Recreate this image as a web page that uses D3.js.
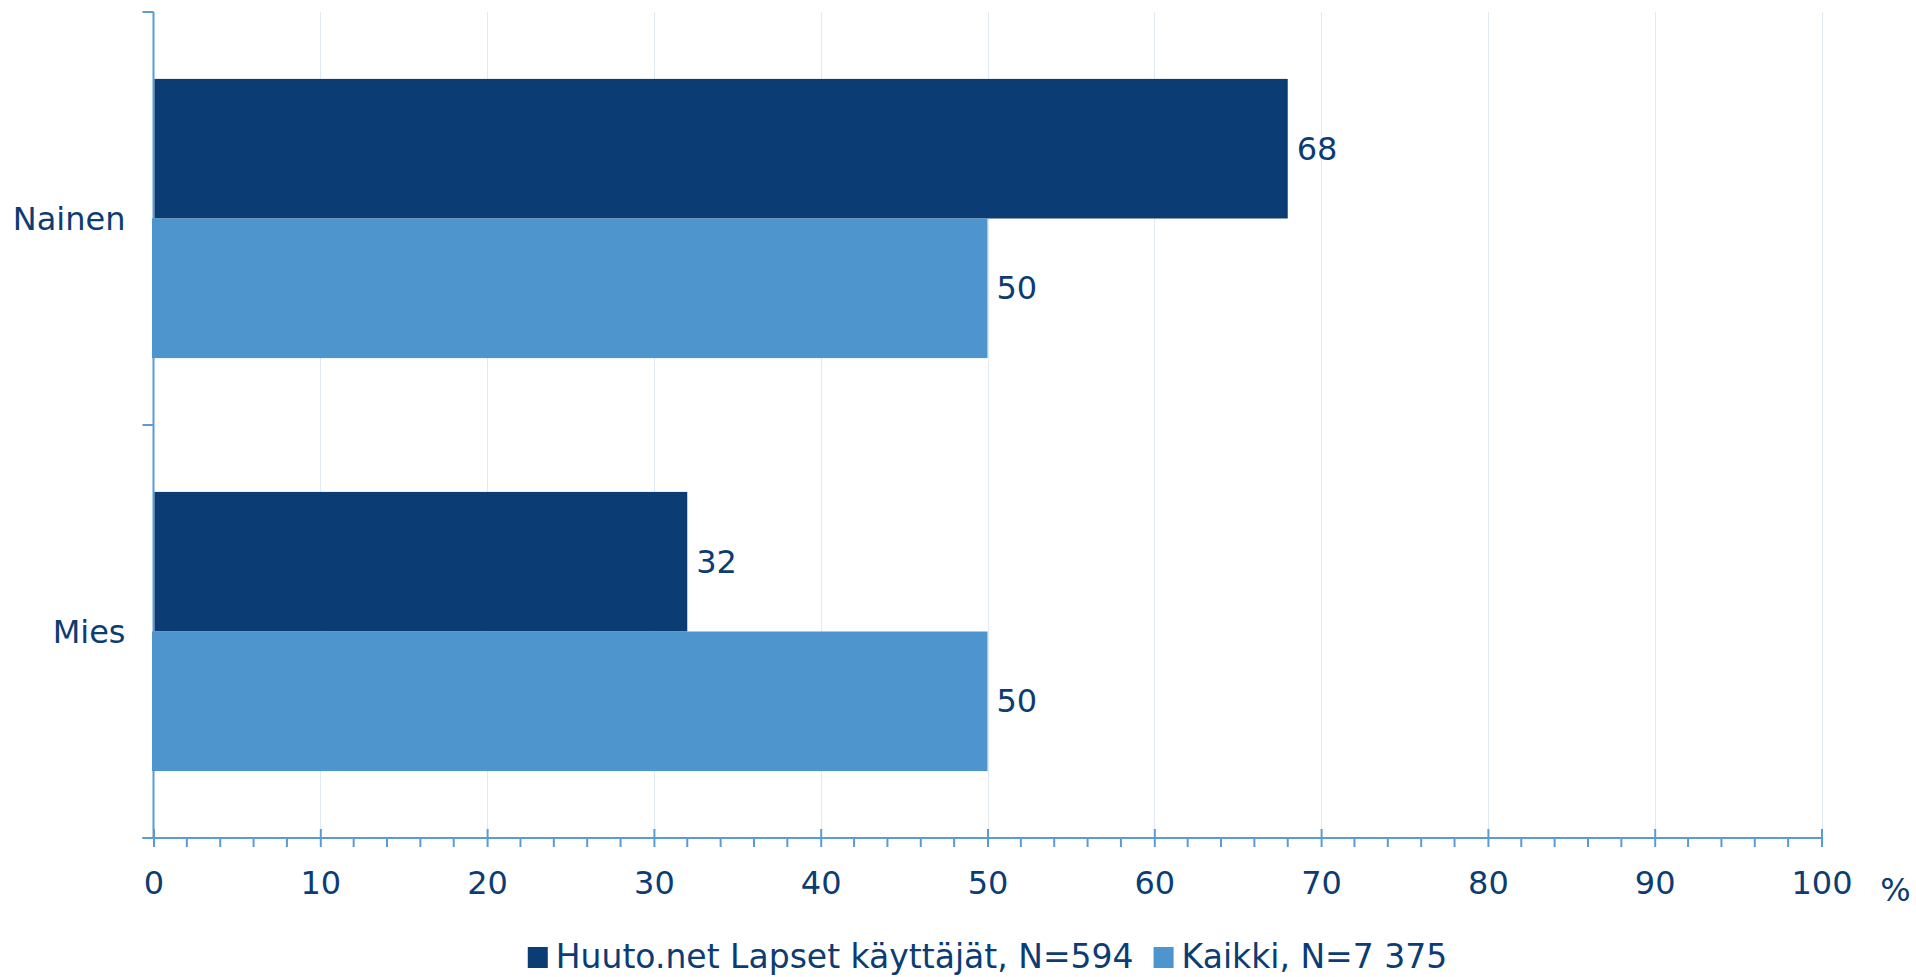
<!DOCTYPE html>
<html>
<head>
<meta charset="utf-8">
<script src="https://cdn.jsdelivr.net/npm/d3@7"></script>
<style>
  html, body { margin: 0; padding: 0; background: #fff; }
  svg { display: block; }
  text { font-family: "DejaVu Sans", Verdana, sans-serif; fill: #0b3c73; }
</style>
</head>
<body>
<svg id="chart" width="1916" height="977"></svg>
<script>
const categories = ["Nainen", "Mies"];
const seriesNames = ["Huuto.net Lapset käyttäjät, N=594", "Kaikki, N=7 375"];
const seriesHuuto = [68, 32];
const seriesKaikki = [50, 50];
const xTicks = [0, 10, 20, 30, 40, 50, 60, 70, 80, 90, 100];
const unitLabel = "%";

(function () {
const colors = ["#0b3c74", "#4e94cd"];
const axisColor = "#5b9bd5";
const gridColor = "#dfeaf5";
const textColor = "#0b3c73";
const FS = 32;

const svg = d3.select("#chart");
const pLeft = 153.5, pRight = 1821.5, pTop = 12, pBottom = 838;

const x = d3.scaleLinear().domain([0, 100]).range([pLeft, pRight]);
const y = d3.scaleBand().domain(categories).range([pTop, pBottom]).paddingInner(0.324).paddingOuter(0.162);
const ySub = d3.scaleBand().domain([0, 1]).range([0, y.bandwidth()]);

const data = categories.map((c, i) => ({ cat: c, values: [seriesHuuto[i], seriesKaikki[i]] }));

// gridlines
svg.append("g").selectAll("line").data(xTicks.filter(d => d > 0)).join("line")
  .attr("x1", d => Math.round(x(d)) + 0.5).attr("x2", d => Math.round(x(d)) + 0.5)
  .attr("y1", pTop).attr("y2", pBottom)
  .attr("stroke", gridColor).attr("stroke-width", 1);

// y axis line (under bars)
svg.append("line").attr("x1", pLeft).attr("x2", pLeft).attr("y1", pTop).attr("y2", pBottom)
  .attr("stroke", axisColor).attr("stroke-width", 2);

// bars
const groups = svg.append("g").selectAll("g").data(data).join("g")
  .attr("transform", d => `translate(0,${y(d.cat)})`);
groups.selectAll("rect").data(d => d.values.map((v, i) => ({ v, i }))).join("rect")
  .attr("x", d => d.i === 1 ? x(0) - 1.5 : x(0) + 1)
  .attr("y", d => ySub(d.i))
  .attr("width", d => d.i === 1 ? x(d.v) - x(0) + 1.5 : x(d.v) - x(0) - 1)
  .attr("height", ySub.bandwidth())
  .attr("fill", d => colors[d.i]);
groups.selectAll("text").data(d => d.values.map((v, i) => ({ v, i }))).join("text")
  .attr("x", d => x(d.v) + 9)
  .attr("y", d => ySub(d.i) + ySub.bandwidth() / 2)
  .attr("dy", "0.34em")
  .attr("font-size", FS)
  .text(d => d.v);

// x axis (bottom)
const xAxis = d3.axisBottom(x).tickValues(xTicks).tickSize(9).tickPadding(24).tickFormat(d3.format("d"));
const gx = svg.append("g").attr("transform", `translate(0,${pBottom})`).call(xAxis);
gx.select(".domain").remove();
gx.selectAll(".tick line").attr("stroke", axisColor).attr("stroke-width", 2).attr("y1", -9);
gx.selectAll(".tick text").attr("font-size", FS).attr("fill", textColor)
  .style("font-family", '"DejaVu Sans", Verdana, sans-serif');
// minor ticks
const minor = d3.range(0, 101, 2).filter(d => d % 10 !== 0);
gx.append("g").selectAll("line").data(minor).join("line")
  .attr("x1", d => x(d)).attr("x2", d => x(d)).attr("y1", 0).attr("y2", 9)
  .attr("stroke", axisColor).attr("stroke-width", 2);
gx.append("line").attr("x1", pLeft - 11).attr("x2", pRight).attr("y1", 0).attr("y2", 0)
  .attr("stroke", axisColor).attr("stroke-width", 2);

// y axis ticks and labels
const gy = svg.append("g");
const yTickPos = [pTop, (pTop + pBottom) / 2, pBottom];
gy.selectAll("line.yt").data(yTickPos).join("line").attr("class", "yt")
  .attr("x1", pLeft - 11).attr("x2", pLeft).attr("y1", d => d).attr("y2", d => d)
  .attr("stroke", axisColor).attr("stroke-width", 2);
gy.selectAll("text").data(categories).join("text")
  .attr("x", pLeft - 28)
  .attr("y", d => y(d) + y.bandwidth() / 2)
  .attr("dy", "0.36em")
  .attr("text-anchor", "end")
  .attr("font-size", FS)
  .text(d => d);

// unit label
svg.append("text").attr("x", x(100) + 74).attr("y", pBottom + 40).attr("dy", "0.71em")
  .attr("text-anchor", "middle").attr("font-size", FS).text(unitLabel);

// legend
const leg = svg.append("g");
let cx = 0;
seriesNames.forEach((name, i) => {
  const g = leg.append("g").attr("transform", `translate(${cx},0)`);
  g.append("rect").attr("x", 0).attr("y", -21).attr("width", 20).attr("height", 21).attr("fill", colors[i]);
  const t = g.append("text").attr("x", 28).attr("y", 0).attr("font-size", 33).text(name);
  const w = t.node().getComputedTextLength();
  cx += 28 + w + 20;
});
const legW = cx - 20;
leg.attr("transform", `translate(${(pLeft + pRight) / 2 - legW / 2},968)`);
})();
</script>
</body>
</html>
